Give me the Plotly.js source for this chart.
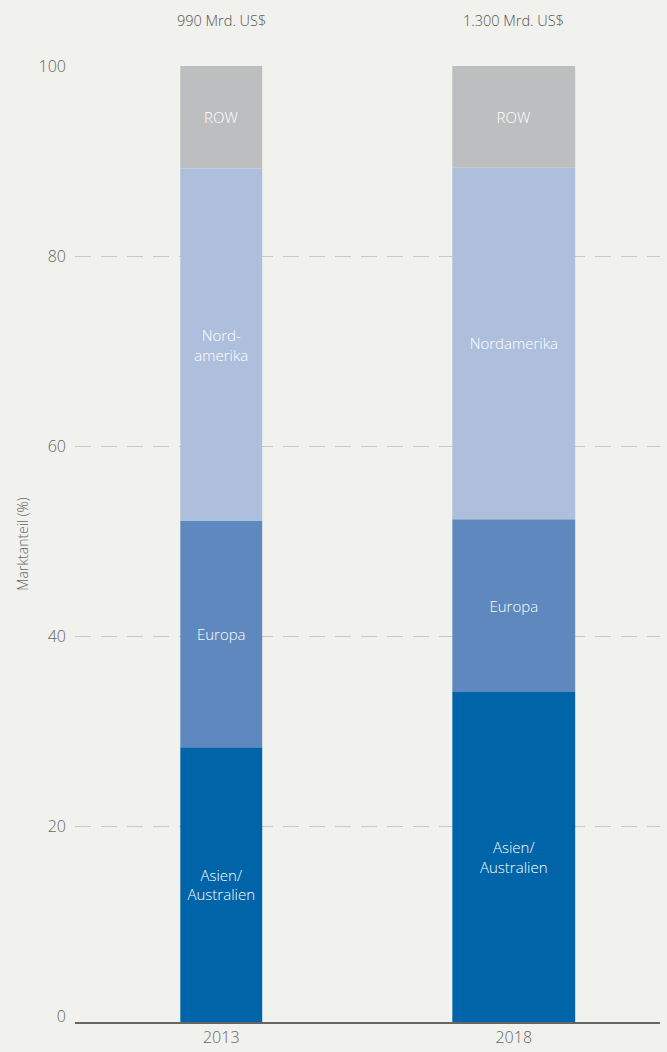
<!DOCTYPE html>
<html>
<head>
<meta charset="utf-8">
<script src="https://cdn.plot.ly/plotly-3.0.1.min.js"></script>
<style>html,body{margin:0;padding:0;background:#F1F1ED;}#chart{width:667px;height:1052px;}</style>
</head>
<body>
<div id="chart"></div>
<script>
// Data
var years = ['2013', '2018'];
var totals = ['990 Mrd. US$', '1.300 Mrd. US$'];
var asien = [28.3, 34.1];
var europa = [23.8, 18.2];
var nordamerika = [37.1, 37.0];
var row = [10.8, 10.7];
var asienLabels = ['Asien/<br>Australien', 'Asien/<br>Australien'];
var europaLabels = ['Europa', 'Europa'];
var nordLabels = ['Nord-<br>amerika', 'Nordamerika'];
var rowLabels = ['ROW', 'ROW'];
var yTicks = [0, 20, 40, 60, 80, 100];

var Y_MIN = -0.63;
var barWidths = [0.28, 0.42];
var font = 'Open Sans, Noto Sans, sans-serif';

var series = [
  {name: 'Asien/Australien', v: asien, t: asienLabels, c: '#0064A8'},
  {name: 'Europa', v: europa, t: europaLabels, c: '#5E88BE'},
  {name: 'Nordamerika', v: nordamerika, t: nordLabels, c: '#ADBFDD'},
  {name: 'ROW', v: row, t: rowLabels, c: '#BCBEC0'}
];

var cum = years.map(function(){return 0;});
var traces = series.map(function(s, si){
  var base = cum.map(function(b){ return si === 0 ? Y_MIN : b; });
  var ys = s.v.map(function(v){ return si === 0 ? v - Y_MIN : v; });
  cum = cum.map(function(b, i){ return b + s.v[i]; });
  return {
    type: 'bar', name: s.name, x: years, y: ys, base: base,
    width: barWidths, text: s.t, textposition: 'inside',
    insidetextanchor: 'middle', textangle: 0, constraintext: 'none',
    textfont: {family: font, size: 15, color: '#ffffff', weight: 300},
    marker: {color: s.c, line: {width: 0}},
    hoverinfo: 'skip'
  };
});
// invisible helper trace on second y axis (for gridlines above 0)
traces.push({type: 'scatter', x: years, y: [50, 50], yaxis: 'y2', mode: 'none', hoverinfo: 'skip', showlegend: false});

var annotations = years.map(function(y, i){
  return {x: 0.25 + 0.5 * i, xref: 'paper', y: 1.048, yref: 'paper',
    text: totals[i].replace('$', '&#36;'), showarrow: false,
    font: {family: font, size: 14.5, color: '#555555', weight: 300}, xanchor: 'center', yanchor: 'middle'};
});

var layout = {
  width: 667, height: 1052,
  margin: {l: 75, r: 7, t: 66, b: 30},
  paper_bgcolor: '#F1F1ED', plot_bgcolor: '#F1F1ED',
  barmode: 'overlay', showlegend: false,
  font: {family: font, color: '#666666', weight: 300},
  xaxis: {type: 'category', range: [-0.5, 1.5], showgrid: false, showline: true,
    linecolor: '#666666', linewidth: 1.5, ticks: '', tickfont: {size: 16, color: '#666666', weight: 300},
    fixedrange: true},
  yaxis: {range: [Y_MIN, 100], tickvals: yTicks, showgrid: false, zeroline: false,
    showline: false, ticks: '', ticklabelstandoff: 8,
    tickfont: {size: 16, color: '#666666', weight: 300},
    title: {text: 'Marktanteil (%)', font: {size: 14, color: '#666666', weight: 300}, standoff: 6},
    fixedrange: true},
  yaxis2: {overlaying: 'y', range: [Y_MIN, 100], tickvals: yTicks.slice(1), showgrid: true,
    gridcolor: '#C9C9C9', gridwidth: 1, griddash: '16px,10px', zeroline: false,
    showticklabels: false, showline: false, ticks: '', fixedrange: true},
  annotations: annotations
};

Plotly.newPlot('chart', traces, layout, {displayModeBar: false, staticPlot: true});
</script>
</body>
</html>
